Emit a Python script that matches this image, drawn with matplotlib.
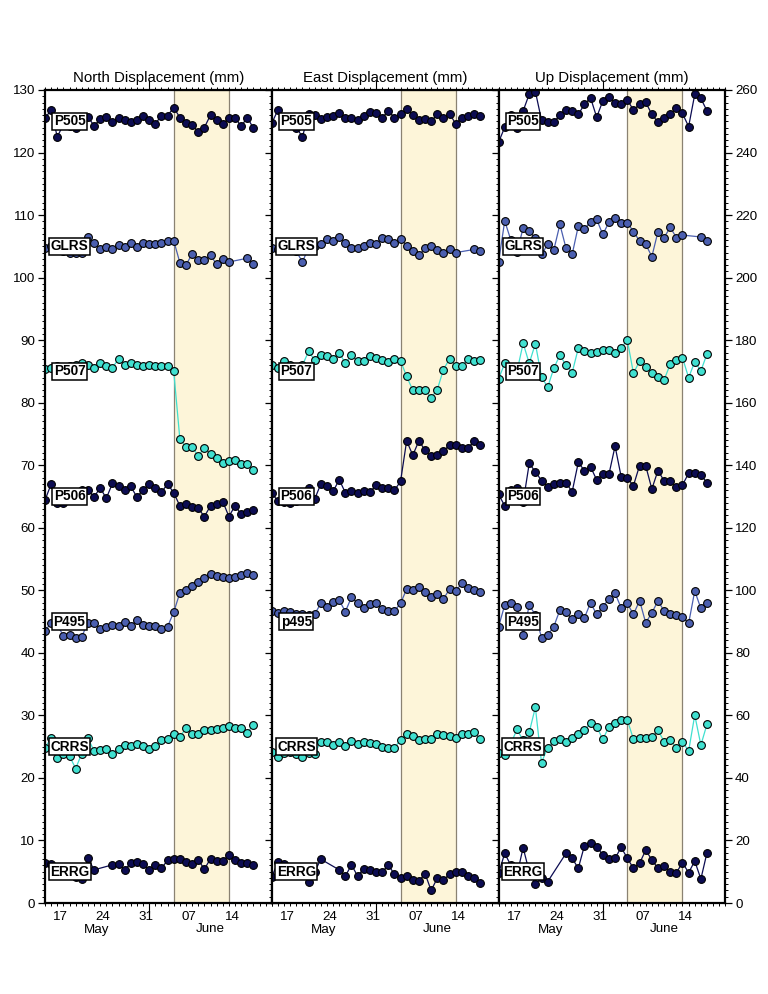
import datetime as dt
import matplotlib
matplotlib.use("Agg")
import matplotlib.pyplot as plt
import matplotlib.dates as mdates
from matplotlib.ticker import MultipleLocator, FixedLocator
import matplotlib.transforms as mtransforms

plt.rcParams['font.family'] = ['Liberation Sans', 'DejaVu Sans']

# ---------------- data ----------------
start = dt.datetime(2013, 5, 15)
dates = [start + dt.timedelta(days=i) for i in range(35)]

stations = ["P505", "GLRS", "P507", "P506", "P495", "CRRS", "ERRG"]
east_names = ["P505", "GLRS", "P507", "P506", "p495", "CRRS", "ERRG"]
north_offsets = [125, 105, 85, 65, 45, 25, 5]
up_offsets = [250, 210, 170, 130, 90, 50, 10]

P505_N = [125.5,126.8,122.5,124.5,124.3,124.0,124.8,125.7,124.3,125.3,125.7,124.9,125.6,125.2,124.9,125.2,125.9,125.2,124.6,125.9,125.9,127.2,125.6,124.8,124.4,123.3,124.0,126.0,125.2,124.6,125.5,125.6,124.2,125.6,123.9]
GLRS_N = [104.8,105.0,104.6,104.2,104.0,103.9,103.9,106.5,105.6,104.5,104.9,104.5,105.2,104.9,105.6,104.9,105.5,105.3,105.3,105.6,105.9,105.9,102.4,102.0,103.8,102.8,102.8,103.6,102.1,102.9,102.5,None,None,103.1,102.2]
P507_N = [85.4,85.6,85.8,85.5,85.8,86.0,86.4,86.1,85.6,86.3,85.9,85.6,87.0,86.0,86.3,86.0,85.8,86.0,85.8,85.8,85.9,85.0,74.2,72.9,72.9,71.5,72.8,71.8,71.2,70.4,70.6,70.9,70.2,70.2,69.3]
P506_N = [64.4,67.0,64.0,63.9,65.0,65.5,66.0,66.1,64.9,66.4,64.7,67.1,66.7,66.1,66.6,64.9,66.1,67.0,66.4,65.7,67.0,65.6,63.5,63.8,63.4,63.1,61.8,63.5,63.8,64.2,61.8,63.5,62.2,62.6,62.9]
P495_N = [43.5,44.8,44.5,42.7,42.9,42.3,42.6,44.8,44.8,43.8,44.1,44.5,44.3,44.9,44.3,45.3,44.5,44.3,44.3,43.8,44.2,46.5,49.6,50.1,50.7,51.4,51.9,52.6,52.3,52.2,51.9,52.2,52.4,52.7,52.4]
CRRS_N = [24.8,26.4,23.2,23.9,23.5,21.5,23.9,26.4,24.3,24.5,24.7,23.9,24.7,25.3,25.1,25.5,25.1,24.7,25.1,26.1,26.2,27.1,26.5,28.0,27.0,27.1,27.7,27.6,27.9,28.0,28.3,28.0,28.0,27.2,28.5]
ERRG_N = [6.4,6.2,5.5,5.0,4.5,4.2,3.9,7.2,5.3,None,None,6.1,6.2,5.3,6.4,6.5,6.2,5.2,6.1,5.6,6.8,7.0,7.0,6.6,6.2,6.9,5.4,7.1,6.7,6.7,7.7,6.8,6.4,6.4,6.0]

P505_E = [124.7,126.8,125.5,125.5,124.0,122.5,126.2,126.0,125.3,125.7,125.8,126.3,125.6,125.6,125.2,125.9,126.5,126.4,125.5,126.7,125.6,126.1,126.9,126.0,125.2,125.3,125.0,126.1,125.5,126.2,124.6,125.6,125.8,126.1,125.9]
GLRS_E = [104.8,104.5,104.6,104.5,104.2,102.5,104.8,105.0,105.3,106.2,105.8,106.5,105.5,104.8,104.8,105.0,105.6,105.4,106.4,106.2,105.5,106.2,105.1,104.3,103.6,104.7,105.1,104.4,103.9,104.5,104.0,None,None,104.5,104.3]
P507_E = [86.1,85.5,86.6,86.0,85.5,86.0,88.2,86.8,87.6,87.5,87.0,88.0,86.3,87.6,86.6,86.6,87.4,87.1,86.8,86.5,87.0,86.7,84.2,82.0,82.0,82.1,80.8,82.1,85.3,87.0,85.9,85.9,87.0,86.6,86.8]
P506_E = [65.5,64.3,64.1,64.0,64.3,64.5,66.3,64.6,67.0,66.7,65.8,67.7,65.6,65.8,65.5,65.8,65.7,66.8,66.3,66.3,66.0,67.4,73.9,71.6,73.9,72.4,71.4,71.7,72.3,73.2,73.2,72.7,72.8,73.8,73.3]
P495_E = [46.7,46.3,46.7,46.5,46.2,46.2,46.0,46.2,47.9,47.4,48.2,48.4,46.6,48.9,47.9,47.2,47.8,47.9,47.0,46.7,46.7,47.9,50.2,50.0,50.6,49.8,48.9,49.4,48.6,50.2,49.9,51.1,50.3,50.1,49.8]
CRRS_E = [24.2,23.3,24.0,24.2,23.9,23.3,24.0,23.9,25.8,25.7,25.2,25.7,25.1,25.9,25.4,25.7,25.6,25.4,25.0,24.8,24.8,26.1,27.1,26.7,26.0,26.2,26.2,27.1,26.8,26.7,26.4,27.0,27.0,27.4,26.2]
ERRG_E = [4.2,6.5,6.2,5.5,5.0,4.5,3.4,5.0,7.0,None,None,5.3,4.3,6.1,4.3,5.5,5.2,4.9,4.9,6.1,4.6,4.0,4.3,3.7,3.5,4.7,2.0,4.0,3.7,4.6,4.9,4.9,4.3,4.0,3.2]

P505_U = [243.3,248.1,252.0,247.7,253.3,258.7,259.5,250.4,249.9,249.7,252.0,253.6,253.3,252.2,255.4,257.5,251.3,256.5,257.9,255.9,255.4,256.8,253.6,255.5,256.1,252.2,249.7,251.1,252.2,254.4,252.5,248.3,258.6,257.3,253.3]
GLRS_U = [205.1,218.1,212.0,208.3,215.8,214.9,212.6,207.4,210.6,208.8,217.0,209.4,207.4,216.5,215.5,217.9,218.6,213.8,217.7,219.0,217.4,217.6,214.7,211.7,210.7,206.7,214.7,212.8,216.1,212.8,213.6,None,None,213.0,211.7]
P507_U = [167.6,172.6,171.0,170.0,179.0,172.6,178.9,168.3,164.9,171.0,175.2,172.0,169.6,177.4,176.6,176.0,176.3,176.8,176.8,175.8,177.6,180.0,169.4,173.3,171.5,169.4,168.3,167.3,172.3,173.6,174.4,168.0,173.1,170.2,175.6]
P506_U = [130.7,127.0,132.1,132.8,128.1,140.6,137.9,135.1,133.1,133.9,134.2,134.4,131.5,140.9,138.3,139.5,135.3,137.1,137.1,146.1,136.3,135.8,133.5,139.9,139.8,132.4,138.3,135.0,134.8,133.1,133.7,137.4,137.6,136.9,134.4]
P495_U = [88.4,95.3,95.8,94.8,85.7,95.3,92.1,84.9,85.7,88.4,93.7,93.0,90.7,92.3,91.2,96.0,92.3,94.8,97.2,99.0,94.4,95.8,92.3,96.7,89.6,92.8,96.6,93.4,92.3,92.1,91.6,89.4,99.8,94.2,96.0]
CRRS_U = [48.1,47.3,51.0,55.5,52.0,54.6,62.6,44.9,49.7,51.8,52.4,51.4,52.9,53.9,55.2,57.7,56.4,52.3,56.4,57.5,58.5,58.5,52.4,52.9,52.9,53.0,55.3,51.6,52.1,49.7,51.6,48.6,60.1,50.5,57.2]
ERRG_U = [9.5,15.9,12.0,9.0,17.7,10.0,6.1,7.9,6.8,None,None,15.9,14.3,11.1,18.3,19.1,18.0,15.4,14.0,14.3,17.8,14.3,11.1,12.7,16.9,13.8,11.1,11.9,9.8,9.7,12.9,9.7,13.4,7.7,16.1]

north = [P505_N, GLRS_N, P507_N, P506_N, P495_N, CRRS_N, ERRG_N]
east = [P505_E, GLRS_E, P507_E, P506_E, P495_E, CRRS_E, ERRG_E]
up = [P505_U, GLRS_U, P507_U, P506_U, P495_U, CRRS_U, ERRG_U]

titles = ["North Displacement (mm)", "East Displacement (mm)", "Up Displacement (mm)"]
day_tick_dates = [dt.datetime(2013, 5, 17), dt.datetime(2013, 5, 24), dt.datetime(2013, 5, 31),
                  dt.datetime(2013, 6, 7), dt.datetime(2013, 6, 14)]
day_tick_labels = ["17", "24", "31", "07", "14"]
month_labels = ["May", "June"]
month_centers = [dt.datetime(2013, 5, 23, 12), dt.datetime(2013, 6, 11)]
shade_start, shade_end = dt.datetime(2013, 6, 5), dt.datetime(2013, 6, 14)
xmin, xmax = dt.datetime(2013, 5, 15), dt.datetime(2013, 6, 21)
month_boundary = dt.datetime(2013, 6, 1)

navy = "#0c0c52"
mid = "#4b5fb0"
turq = "#40e0d0"
colors = [navy, mid, turq, navy, mid, turq, navy]

# ---------------- figure ----------------
W, H = 768, 994
fig = plt.figure(figsize=(W / 100, H / 100), dpi=100)
lefts = [45, 271.8, 498.6]
pw = 226.8
top, bottom = 90, 903
ph = bottom - top

panels = [(north, stations, north_offsets, 130, 10, 1),
          (east, east_names, north_offsets, 130, 10, 1),
          (up, stations, up_offsets, 260, 20, 2)]

for i, (data, names, offs, ymax, major, minor) in enumerate(panels):
    ax = fig.add_axes([lefts[i] / W, (H - bottom) / H, pw / W, ph / H])
    ax.axvspan(shade_start, shade_end, facecolor="#fdf5d9", edgecolor="#8a8272",
               lw=0.9, zorder=0.5)
    for series, name, off, c in zip(data, names, offs, colors):
        xs = [d for d, v in zip(dates, series) if v is not None]
        ys = [v for v in series if v is not None]
        ax.plot(xs, ys, "-", color=c, lw=0.9, zorder=2)
        ax.plot(xs, ys, "o", ms=5.6, mfc=c, mec="black", mew=0.8, zorder=3)
        lx = mdates.date2num(dt.datetime(2013, 5, 19))
        ax.text(lx, off, name, ha="center", va="center", fontsize=9.8,
                fontweight="bold", zorder=6,
                bbox=dict(boxstyle="square,pad=0.1", fc="white", ec="black", lw=1.1))
    ax.set_xlim(xmin, xmax)
    ax.set_ylim(0, ymax)

    ax.xaxis.set_major_locator(FixedLocator([mdates.date2num(month_boundary)]))
    ax.xaxis.set_minor_locator(mdates.DayLocator())
    ax.xaxis.set_major_formatter(plt.NullFormatter())
    ax.tick_params(axis="x", which="major", direction="out", length=7, width=0.8,
                   top=True, bottom=True, labelbottom=False)
    ax.tick_params(axis="x", which="minor", direction="out", length=2.5, width=0.7,
                   top=True, bottom=True)

    ax.yaxis.set_major_locator(MultipleLocator(major))
    ax.yaxis.set_minor_locator(MultipleLocator(minor))
    ax.tick_params(axis="y", which="major", direction="out", length=5, width=0.9,
                   left=True, right=True, labelsize=9.6, pad=2,
                   labelleft=(i == 0), labelright=(i == 2))
    ax.tick_params(axis="y", which="minor", direction="out", length=2.5, width=0.7,
                   left=True, right=True)
    for s in ax.spines.values():
        s.set_linewidth(1.6)
        s.set_zorder(7)

    trans = mtransforms.blended_transform_factory(ax.transData, ax.transAxes)
    for d, lab in zip(day_tick_dates, day_tick_labels):
        ax.text(mdates.date2num(d) + 0.5, -7.5 / ph, lab, transform=trans,
                ha="center", va="top", fontsize=9.6)
    for d, lab in zip(month_centers, month_labels):
        ax.text(mdates.date2num(d), -20.5 / ph, lab, transform=trans,
                ha="center", va="top", fontsize=9.6)
    ax.text(0.5, 1 + 8.0 / ph, titles[i], transform=ax.transAxes,
            ha="center", va="baseline", fontsize=10.8)

fig.savefig("out.png", dpi=100)
